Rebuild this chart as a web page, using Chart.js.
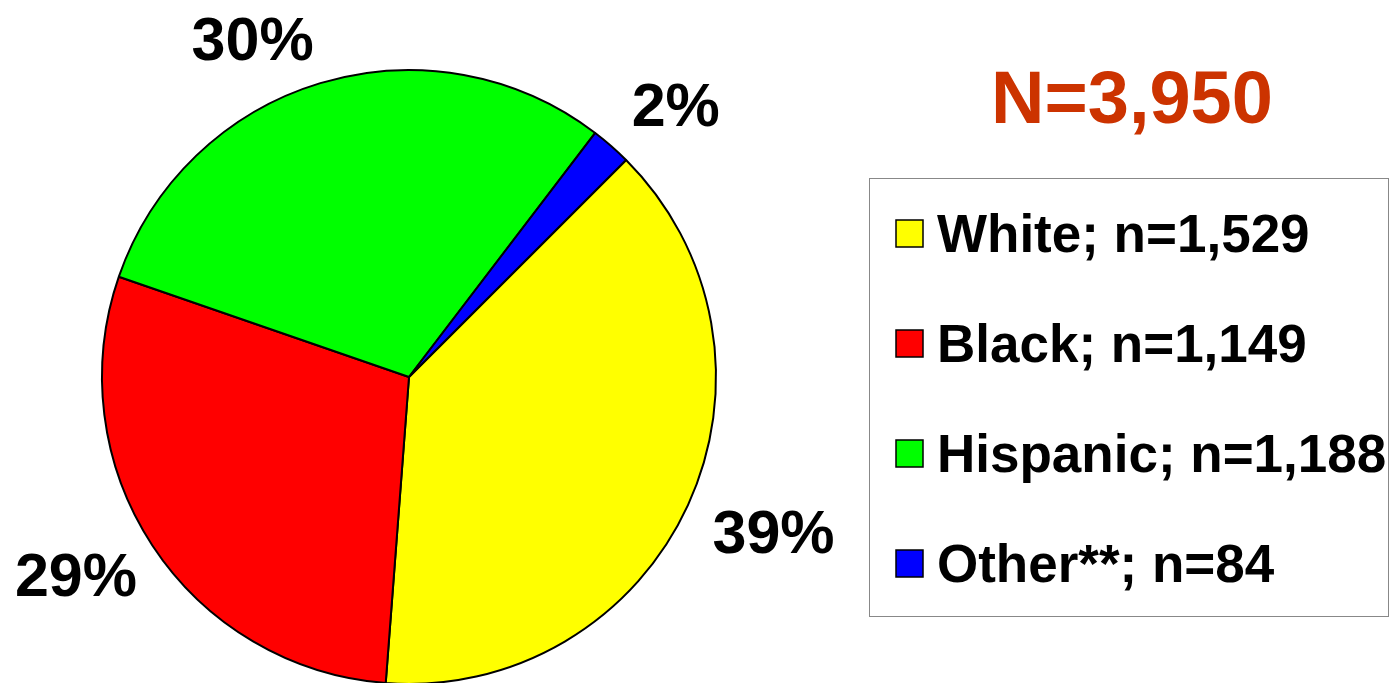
<!DOCTYPE html>
<html>
<head>
<meta charset="utf-8">
<script src="https://cdn.jsdelivr.net/npm/chart.js@4/dist/chart.umd.min.js"></script>
<style>
  html, body { margin: 0; padding: 0; background: #fff; overflow: hidden; }
  #wrap { width: 1391px; height: 720px; }
</style>
</head>
<body>
<div id="wrap"><canvas id="chart" width="1391" height="720"></canvas></div>
<script>
// Data
const groups = ["White", "Black", "Hispanic", "Other**"];
const counts = [1529, 1149, 1188, 84];
const sliceColors = ["#ffff00", "#ff0000", "#00ff00", "#0000ff"];

const total = counts.reduce((s, v) => s + v, 0);
const fmt = n => n.toLocaleString("en-US");

// Percent labels outside the pie, title and boxed legend
const extrasPlugin = {
  id: "extras",
  afterDraw(chart) {
    const ctx = chart.ctx;
    const arcs = chart.getDatasetMeta(0).data;

    ctx.save();
    ctx.fillStyle = "#000";
    ctx.font = "bold 61px 'Liberation Sans', Arial, sans-serif";
    arcs.forEach((arc, i) => {
      const mid = (arc.startAngle + arc.endAngle) / 2;
      const r = arc.outerRadius + 16;
      const right = Math.cos(mid) >= 0;
      const below = Math.sin(mid) >= 0;
      const x = arc.x + Math.cos(mid) * r + (right ? 10 : -2);
      const y = arc.y + Math.sin(mid) * r + (below ? -6 : 6);
      ctx.textAlign = right ? "left" : "right";
      ctx.textBaseline = below ? "top" : "bottom";
      const pct = Math.round(counts[i] / total * 100) + "%";
      ctx.fillText(pct, x, y);
    });

    // N= title
    ctx.fillStyle = "#cc3300";
    ctx.font = "bold 74px 'Liberation Sans', Arial, sans-serif";
    ctx.textAlign = "center";
    ctx.textBaseline = "alphabetic";
    ctx.fillText("N=" + fmt(total), 1132, 123);

    // legend box
    ctx.strokeStyle = "#888";
    ctx.lineWidth = 1;
    ctx.strokeRect(869.5, 178.5, 519, 438);

    ctx.font = "bold 53px 'Liberation Sans', Arial, sans-serif";
    ctx.textAlign = "left";
    groups.forEach((g, i) => {
      const base = 252 + i * 110;
      ctx.fillStyle = sliceColors[i];
      ctx.fillRect(896, base - 32, 27, 27);
      ctx.strokeStyle = "#000";
      ctx.lineWidth = 1.5;
      ctx.strokeRect(896, base - 32, 27, 27);
      ctx.fillStyle = "#000";
      ctx.fillText(g + "; n=" + fmt(counts[i]), 937, base);
    });
    ctx.restore();
  }
};

new Chart(document.getElementById("chart"), {
  type: "pie",
  data: {
    labels: groups,
    datasets: [{
      data: counts,
      backgroundColor: sliceColors,
      borderColor: "#000",
      borderWidth: 2
    }]
  },
  options: {
    responsive: false,
    animation: false,
    rotation: 45,
    layout: { padding: { left: 101, right: 674, top: 69, bottom: 35 } },
    plugins: {
      legend: { display: false },
      tooltip: { enabled: false }
    }
  },
  plugins: [extrasPlugin]
});
</script>
</body>
</html>
